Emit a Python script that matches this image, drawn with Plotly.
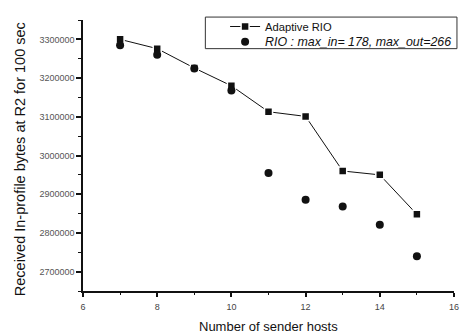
import plotly.graph_objects as go

# Number of sender hosts
hosts = [7, 8, 9, 10, 11, 12, 13, 14, 15]

# Received in-profile bytes at R2 over 100 sec
adaptive_rio = [3300000, 3276000, 3226000, 3180000, 3113000, 3101000, 2960000, 2950000, 2848000]
rio_fixed = [3285000, 3260000, 3225000, 3168000, 2955000, 2886000, 2868000, 2821000, 2740000]

x_ticks = [6, 8, 10, 12, 14, 16]
y_ticks = [2700000, 2800000, 2900000, 3000000, 3100000, 3200000, 3300000]

font_family = "Liberation Sans, Arial, sans-serif"

fig = go.Figure()

fig.add_trace(go.Scatter(
    x=hosts, y=adaptive_rio,
    mode="lines+markers",
    name="Adaptive RIO",
    legend="legend",
    line=dict(color="#111111", width=1),
    marker=dict(symbol="square", size=8, color="#111111",
                line=dict(color="white", width=1.5)),
))

fig.add_trace(go.Scatter(
    x=hosts, y=rio_fixed,
    mode="markers",
    name="<i>RIO : max_in= 178, max_out=266</i>",
    legend="legend2",
    marker=dict(symbol="circle", size=8, color="#111111"),
))

legend_common = dict(
    xanchor="left", yanchor="middle",
    bgcolor="rgba(0,0,0,0)", borderwidth=0,
    itemsizing="trace", tracegroupgap=0,
)

fig.update_layout(
    width=471, height=336,
    margin=dict(l=83, r=12, t=13, b=45),
    paper_bgcolor="white",
    plot_bgcolor="white",
    font=dict(family=font_family, color="#111111"),
    showlegend=True,
    legend=dict(x=0.383, y=0.976,
                font=dict(size=11.2, color="#111111"), **legend_common),
    legend2=dict(x=0.383, y=0.9185,
                 font=dict(size=12.4, color="#111111"), **legend_common),
    shapes=[dict(
        type="rect", xref="paper", yref="paper",
        x0=0.3298, x1=1.008, y0=0.8943, y1=1.0108,
        line=dict(color="#333333", width=1),
        fillcolor="white", layer="above",
    )],
    annotations=[
        dict(text="Number of sender hosts", xref="paper", yref="paper",
             x=0.5, y=-0.1295, xanchor="center", yanchor="middle",
             showarrow=False, font=dict(size=13, color="#111111")),
        dict(text="Received In-profile bytes at R2 for 100 sec",
             xref="paper", yref="paper", x=-0.170, y=0.486,
             xanchor="center", yanchor="middle", textangle=-90,
             showarrow=False, font=dict(size=14.5, color="#111111")),
    ],
)

fig.update_xaxes(
    range=[6, 16],
    tickvals=x_ticks,
    ticktext=[str(v) for v in x_ticks],
    showgrid=False, zeroline=False,
    showline=True, linecolor="#111111", linewidth=1.5,
    ticks="outside", ticklen=4, tickwidth=1.5, tickcolor="#111111",
    ticklabelstandoff=2,
    minor=dict(dtick=1, tick0=6, ticks="outside", ticklen=2,
               tickwidth=1, tickcolor="#111111", showgrid=False),
    tickfont=dict(size=9, color="#444444"),
)

fig.update_yaxes(
    range=[2650000, 3350000],
    tickvals=y_ticks,
    ticktext=[str(v) for v in y_ticks],
    showgrid=False, zeroline=False,
    showline=True, linecolor="#111111", linewidth=1.5,
    ticks="outside", ticklen=5, tickwidth=1.5, tickcolor="#111111",
    minor=dict(dtick=50000, tick0=2650000, ticks="outside", ticklen=3,
               tickwidth=1, tickcolor="#111111", showgrid=False),
    tickfont=dict(size=9, color="#555555"),
)

fig.write_html("out.html")
